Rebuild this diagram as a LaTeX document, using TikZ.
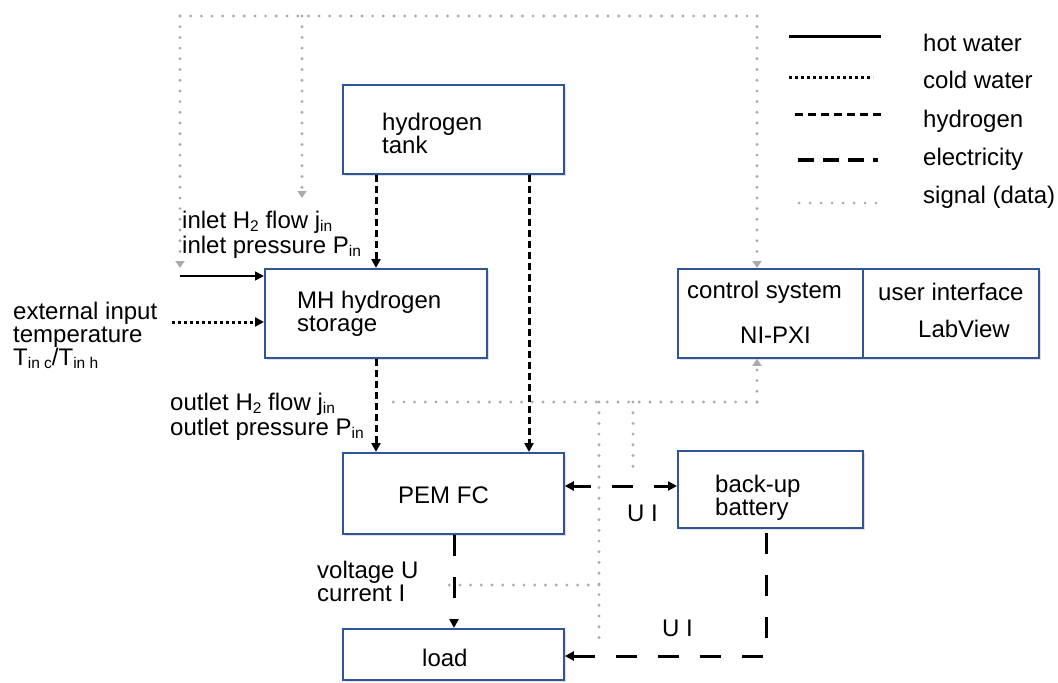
\documentclass[tikz,border=0pt]{standalone}
\usepackage{fontspec}
\setmainfont{Liberation Sans}
\usetikzlibrary{arrows.meta,shadows}
\definecolor{boxblue}{HTML}{2F5597}
\definecolor{sigray}{HTML}{ABABAB}
\newcommand\lsub[1]{\raisebox{-0.12em}{\fontsize{15.5}{15.5}\selectfont #1}}
\tikzset{
  box/.style={draw=boxblue, line width=1.8pt, fill=white, rectangle, inner sep=0pt,
    anchor=north west,
    drop shadow={opacity=0.25, shadow xshift=2pt, shadow yshift=-2.5pt, fill=gray}},
  txt/.style={font=\fontsize{24}{23}\selectfont, inner sep=0pt, anchor=base west, align=left},
  txtw/.style={font=\fontsize{24}{25}\selectfont, inner sep=0pt, anchor=base west, align=left},
  arr/.style={-{Triangle[length=9pt,width=9pt]}},
  darr/.style={{Triangle[length=9pt,width=9pt]}-{Triangle[length=9pt,width=9pt]}},
  sarr/.style={-{Triangle[length=7pt,width=9pt]}},
  hot/.style={line width=1.6pt, black},
  cold/.style={line width=3pt, dash pattern=on 3pt off 3pt, black},
  hyd/.style={line width=3pt, dash pattern=on 7pt off 4pt, black},
  elec/.style={line width=3pt, dash pattern=on 21pt off 21pt, black},
  sig/.style={draw=sigray, line width=3.2pt, line cap=round, dash pattern=on 0pt off 10.7pt},
}
\begin{document}
\begin{tikzpicture}[x=1pt,y=-1pt]
\useasboundingbox (0,0) rectangle (1058,683);

% boxes
\node[box, minimum width=221pt, minimum height=89pt] (tank) at (342,84) {};
\node[box, minimum width=222pt, minimum height=89pt] (mh) at (264,268) {};
\node[box, minimum width=221pt, minimum height=81pt] (pem) at (342,452) {};
\node[box, minimum width=221pt, minimum height=51pt] (load) at (342,628) {};
\node[box, minimum width=185pt, minimum height=89pt] (ctrl) at (677,268) {};
\node[box, minimum width=176pt, minimum height=89pt] (ui) at (862,268) {};
\node[box, minimum width=185pt, minimum height=77pt] (batt) at (677,450) {};

% box texts (base = baseline of last line)
\node[txt] (tanktxt) at (382,153.5) {hydrogen\\tank};
\node[txt] (mhtxt) at (297,331.5) {MH hydrogen\\storage};
\node[txt] (pemtxt) at (398,503.5) {PEM FC};
\node[txt] (loadtxt) at (422,666.5) {load};
\node[txt] (ctrltxt) at (687,298.5) {control system};
\node[txt] (nipxi) at (740,343.5) {NI-PXI};
\node[txt] (uitxt) at (878,300.5) {user interface};
\node[txt] (labview) at (918,337.5) {LabView};
\node[txt] (batttxt) at (715,515.5) {back-up\\battery};

% side labels
\node[txtw] (inlet) at (182,253.5) {inlet H\lsub{2} flow j\lsub{in}\\inlet pressure P\lsub{in}};
\node[txt] (ext) at (13,365.5) {external input\\temperature\\T\lsub{in c}/T\lsub{in h}};
\node[txtw] (outlet) at (170,435.5) {outlet H\lsub{2} flow j\lsub{in}\\outlet pressure P\lsub{in}};
\node[txt] (vu) at (317,601.5) {voltage U\\current I};
\node[txt] (ui1) at (627,521.5) {U I};
\node[txt] (ui2) at (662,636.5) {U I};

% hydrogen
\draw[hyd, arr] (tank.south -| 376,0) -- (mh.north -| 376,0);
\draw[hyd, arr] (tank.south -| 529,0) -- (pem.north -| 529,0);
\draw[hyd, arr] (mh.south -| 376,0) -- (pem.north -| 376,0);

% water
\coordinate (hw) at (180,276);
\coordinate (cw) at (172,322);
\draw[hot, arr] (hw) -- (mh.west |- hw);
\draw[cold, arr] (cw) -- (mh.west |- cw);

% electricity
\draw[elec, darr, dash phase=3pt] (pem.east |- 0,486) -- (batt.west |- 0,486);
\draw[elec, arr] (pem.south -| 454,0) -- (load.north -| 454,0);
\coordinate (ec) at (766,656);
\draw[elec, arr, dash phase=-4pt] (batt.south -| ec) -- (ec) -- (load.east |- ec);

% signals
\coordinate (sL) at (180,268);
\coordinate (sTL) at (180,16);
\coordinate (sTB) at (302,16);
\coordinate (sB) at (302,198);
\coordinate (sTR) at (757,16);
\draw[sig, sarr] (sTL) -- (sL);
\draw[sig] (sTL) -- (sTR);
\draw[sig, sarr] (sTB) -- (sB);
\draw[sig, sarr] (sTR) -- (ctrl.north -| sTR);
\coordinate (sC) at (757,402);
\coordinate (sM) at (383,402);
\coordinate (s1) at (599,402);
\coordinate (s1b) at (599,642);
\coordinate (s2) at (633,402);
\coordinate (s2b) at (633,470);
\coordinate (s3) at (599,585);
\coordinate (s3b) at (440,585);
\draw[sig, sarr] (sC) -- (ctrl.south -| sC);
\draw[sig] (sC) -- (sM);
\draw[sig] (s1) -- (s1b);
\draw[sig] (s2) -- (s2b);
\draw[sig] (s3) -- (s3b);

% legend
\coordinate (l1a) at (789,36);  \coordinate (l1b) at (881,36);
\coordinate (l2a) at (789,77);  \coordinate (l2b) at (873,77);
\coordinate (l3a) at (795,114); \coordinate (l3b) at (882,114);
\coordinate (l4a) at (798,160); \coordinate (l4b) at (878,160);
\coordinate (l5a) at (799,203); \coordinate (l5b) at (878,203);
\draw[line width=3pt] (l1a) -- (l1b);
\draw[line width=3pt, dash pattern=on 3pt off 3pt] (l2a) -- (l2b);
\draw[line width=3pt, dash pattern=on 8pt off 5pt] (l3a) -- (l3b);
\draw[line width=3.5pt, dash pattern=on 16pt off 9pt] (l4a) -- (l4b);
\draw[draw=sigray, line width=3pt, line cap=round, dash pattern=on 0pt off 11pt] (l5a) -- (l5b);
\node[txt] (lg1) at (923,51.5) {hot water};
\node[txt] (lg2) at (923,88.5) {cold water};
\node[txt] (lg3) at (923,127.5) {hydrogen};
\node[txt] (lg4) at (923,165.5) {electricity};
\node[txt] (lg5) at (923,203.5) {signal (data)};
\end{tikzpicture}
\end{document}
